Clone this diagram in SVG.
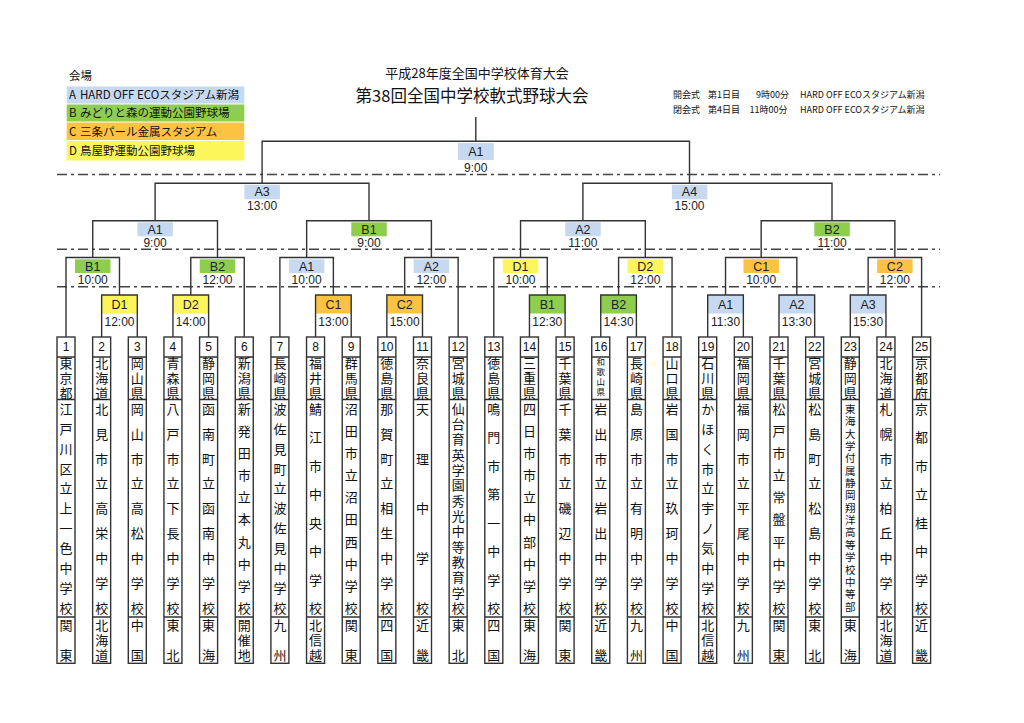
<svg xmlns="http://www.w3.org/2000/svg" width="1024" height="723" viewBox="0 0 1024 723">
<style>
.bg{fill:#ffffff}
.cn{fill:none;stroke:#333;stroke-width:1.4}
.dash{fill:none;stroke:#444;stroke-width:1.5;stroke-dasharray:10 4 3 4}
.tb{fill:#fff;stroke:#333;stroke-width:1.4}
.tl{fill:none;stroke:#333;stroke-width:1.4}
.num{font-family:"Liberation Sans",Arial,sans-serif;font-size:12px;fill:#111;text-anchor:middle}
.jp{font-family:"Noto Sans CJK JP",sans-serif;font-size:13px;fill:#111;text-anchor:middle}
.jps{font-family:"Noto Sans CJK JP",sans-serif;font-size:10.5px;fill:#111;text-anchor:middle}
.jpxs{font-family:"Noto Sans CJK JP",sans-serif;font-size:8.5px;fill:#111;text-anchor:middle}
.lab{font-family:"Liberation Sans",Arial,sans-serif;font-size:12.5px;fill:#222;text-anchor:middle}
.tm{font-family:"Liberation Sans",Arial,sans-serif;font-size:12px;fill:#222;text-anchor:middle}
.lg{font-family:"Noto Sans CJK JP",sans-serif;font-size:11.5px;fill:#111}
.hd{font-family:"Noto Sans CJK JP",sans-serif;font-size:9px;fill:#111}
.A{fill:#c6d9f0}
.B{fill:#8fce4c}
.C{fill:#fcc343}
.D{fill:#fdf65a}
</style>
<rect class="bg" x="0" y="0" width="1024" height="723"/>

<g id="legend">
<text class="lg" x="69" y="80">会場</text>
<rect class="A" x="66.7" y="86.5" width="177.6" height="17"/>
<rect class="B" x="66.7" y="104.5" width="177.6" height="17"/>
<rect class="C" x="66.7" y="122.5" width="177.6" height="17.5"/>
<rect class="D" x="66.7" y="141" width="177.6" height="19.5"/>
<text class="lg" x="69" y="99.3">A</text><text class="lg" x="80" y="99.3">HARD OFF ECOスタジアム新潟</text>
<text class="lg" x="69" y="117.3">B</text><text class="lg" x="80" y="117.3">みどりと森の運動公園野球場</text>
<text class="lg" x="69" y="135.6">C</text><text class="lg" x="80" y="135.6">三条パール金属スタジアム</text>
<text class="lg" x="69" y="154.8">D</text><text class="lg" x="80" y="154.8">鳥屋野運動公園野球場</text>
</g>

<g id="title">
<text x="477" y="78" style="font-family:'Noto Sans CJK JP',sans-serif;font-size:13px;fill:#111;text-anchor:middle">平成28年度全国中学校体育大会</text>
<text x="472" y="101.5" style="font-family:'Noto Sans CJK JP',sans-serif;font-size:16.5px;fill:#111;text-anchor:middle">第38回全国中学校軟式野球大会</text>
</g>

<g id="ceremony">
<text class="hd" x="673" y="97.6">開会式</text>
<text class="hd" x="708" y="97.6">第1日目</text>
<text class="hd" x="756" y="97.6">9時00分</text>
<text class="hd" x="800" y="97.6">HARD OFF ECOスタジアム新潟</text>
<text class="hd" x="673" y="112.6">閉会式</text>
<text class="hd" x="708" y="112.6">第4日目</text>
<text class="hd" x="749.5" y="112.6">11時00分</text>
<text class="hd" x="800" y="112.6">HARD OFF ECOスタジアム新潟</text>
</g>

<g id="round-lines">
<line class="dash" x1="57" y1="174.5" x2="940" y2="174.5"/>
<line class="dash" x1="57" y1="249.3" x2="940" y2="249.3"/>
<line class="dash" x1="57" y1="286.8" x2="940" y2="286.8"/>
</g>

<g id="r1-fills">
<rect class="D" x="101.65" y="295" width="35.65" height="18.5"/>
<rect class="D" x="172.95" y="295" width="35.65" height="18.5"/>
<rect class="C" x="315.55" y="295" width="35.65" height="18.5"/>
<rect class="C" x="386.85" y="295" width="35.65" height="18.5"/>
<rect class="B" x="529.45" y="295" width="35.65" height="18.5"/>
<rect class="B" x="600.75" y="295" width="35.65" height="18.5"/>
<rect class="A" x="707.7" y="295" width="35.65" height="18.5"/>
<rect class="A" x="779" y="295" width="35.65" height="18.5"/>
<rect class="A" x="850.3" y="295" width="35.65" height="18.5"/>
</g>

<g id="connectors">
<path class="cn" d="M101.65 337V295H137.3V337M172.95 337V295H208.6V337M315.55 337V295H351.2V337M386.85 337V295H422.5V337M529.45 337V295H565.1V337M600.75 337V295H636.4V337M707.7 337V295H743.35V337M779 337V295H814.65V337M850.3 337V295H885.95V337"/>
<path class="cn" d="M66 337V257.5H119.48V295M190.78 295V257.5H244.25V337M279.9 337V257.5H333.38V295M404.68 295V257.5H458.15V337M493.8 337V257.5H547.28V295M618.58 295V257.5H672.05V337M725.53 295V257.5H796.83V295M868.13 295V257.5H921.6V337"/>
<path class="cn" d="M92.74 257.5V220.7H217.5V257.5M306.64 257.5V220.7H431.41V257.5M520.54 257.5V220.7H645.31V257.5M761.18 257.5V220.7H894.86V257.5"/>
<path class="cn" d="M155.1 220.7V183.3H369V220.7M582.9 220.7V183.3H832V220.7"/>
<path class="cn" d="M262.1 183.3V141.3H689.5V183.3M475.8 141.3V117"/>
</g>

<g id="final">
<rect class="A" x="457.8" y="143" width="36" height="17"/>
<text class="lab" x="475.8" y="155.7">A1</text>
<text class="tm" x="475.8" y="172.3">9:00</text>
</g>
<g id="sf-a3">
<rect class="A" x="244.4" y="184.8" width="35.5" height="14.5"/>
<text class="lab" x="262.1" y="195.5">A3</text>
<text class="tm" x="262.1" y="210.3">13:00</text>
</g>
<g id="sf-a4">
<rect class="A" x="671.8" y="184.8" width="35.5" height="14.5"/>
<text class="lab" x="689.5" y="195.5">A4</text>
<text class="tm" x="689.5" y="210.3">15:00</text>
</g>

<g id="qf-a1">
<rect class="A" x="137.4" y="222.3" width="35.5" height="14"/>
<text class="lab" x="155.1" y="233.5">A1</text>
<text class="tm" x="155.1" y="246.6">9:00</text>
</g>
<g id="qf-b1">
<rect class="B" x="351.3" y="222.3" width="35.5" height="14"/>
<text class="lab" x="369" y="233.5">B1</text>
<text class="tm" x="369" y="246.6">9:00</text>
</g>
<g id="qf-a2">
<rect class="A" x="565.2" y="222.3" width="35.5" height="14"/>
<text class="lab" x="582.9" y="233.5">A2</text>
<text class="tm" x="582.9" y="246.6">11:00</text>
</g>
<g id="qf-b2">
<rect class="B" x="814.3" y="222.3" width="35.5" height="14"/>
<text class="lab" x="832" y="233.5">B2</text>
<text class="tm" x="832" y="246.6">11:00</text>
</g>

<g id="r2-b1">
<rect class="B" x="75" y="259.3" width="35.5" height="13.7"/>
<text class="lab" x="92.74" y="270.5">B1</text>
<text class="tm" x="92.74" y="283.7">10:00</text>
</g>
<g id="r2-b2">
<rect class="B" x="199.75" y="259.3" width="35.5" height="13.7"/>
<text class="lab" x="217.5" y="270.5">B2</text>
<text class="tm" x="217.5" y="283.7">12:00</text>
</g>
<g id="r2-a1">
<rect class="A" x="288.9" y="259.3" width="35.5" height="13.7"/>
<text class="lab" x="306.64" y="270.5">A1</text>
<text class="tm" x="306.64" y="283.7">10:00</text>
</g>
<g id="r2-a2">
<rect class="A" x="413.66" y="259.3" width="35.5" height="13.7"/>
<text class="lab" x="431.41" y="270.5">A2</text>
<text class="tm" x="431.41" y="283.7">12:00</text>
</g>
<g id="r2-d1">
<rect class="D" x="502.8" y="259.3" width="35.5" height="13.7"/>
<text class="lab" x="520.54" y="270.5">D1</text>
<text class="tm" x="520.54" y="283.7">10:00</text>
</g>
<g id="r2-d2">
<rect class="D" x="627.56" y="259.3" width="35.5" height="13.7"/>
<text class="lab" x="645.31" y="270.5">D2</text>
<text class="tm" x="645.31" y="283.7">12:00</text>
</g>
<g id="r2-c1">
<rect class="C" x="743.43" y="259.3" width="35.5" height="13.7"/>
<text class="lab" x="761.18" y="270.5">C1</text>
<text class="tm" x="761.18" y="283.7">10:00</text>
</g>
<g id="r2-c2">
<rect class="C" x="877.1" y="259.3" width="35.5" height="13.7"/>
<text class="lab" x="894.86" y="270.5">C2</text>
<text class="tm" x="894.86" y="283.7">12:00</text>
</g>

<g id="r1-d1"><text class="lab" x="119.48" y="309">D1</text><text class="tm" x="119.48" y="326.3">12:00</text></g>
<g id="r1-d2"><text class="lab" x="190.78" y="309">D2</text><text class="tm" x="190.78" y="326.3">14:00</text></g>
<g id="r1-c1"><text class="lab" x="333.38" y="309">C1</text><text class="tm" x="333.38" y="326.3">13:00</text></g>
<g id="r1-c2"><text class="lab" x="404.68" y="309">C2</text><text class="tm" x="404.68" y="326.3">15:00</text></g>
<g id="r1-b1"><text class="lab" x="547.28" y="309">B1</text><text class="tm" x="547.28" y="326.3">12:30</text></g>
<g id="r1-b2"><text class="lab" x="618.58" y="309">B2</text><text class="tm" x="618.58" y="326.3">14:30</text></g>
<g id="r1-a1"><text class="lab" x="725.53" y="309">A1</text><text class="tm" x="725.53" y="326.3">11:30</text></g>
<g id="r1-a2"><text class="lab" x="796.83" y="309">A2</text><text class="tm" x="796.83" y="326.3">13:30</text></g>
<g id="r1-a3"><text class="lab" x="868.13" y="309">A3</text><text class="tm" x="868.13" y="326.3">15:30</text></g>

<g id="team1" transform="translate(66,0)">
<rect class="tb" x="-9" y="337" width="18" height="326.3"/><path class="tl" d="M-9 357H9M-9 399.5H9M-9 617H9"/>
<text class="num" x="0" y="351.3">1</text>
<text class="jp" x="0 0 0" y="368.2 382.9 397.5">東京都</text>
<text class="jp" x="0 0 0 0 0 0 0 0 0 0 0" y="413.7 433.6 453.6 473.5 493.4 513.35 533.3 553.2 573.1 593.1 613">江戸川区立上一色中学校</text>
<text class="jp" x="0 0" y="629.7 659.7">関東</text>
</g>
<g id="team2" transform="translate(101.65,0)">
<rect class="tb" x="-9" y="337" width="18" height="326.3"/><path class="tl" d="M-9 357H9M-9 399.5H9M-9 617H9"/>
<text class="num" x="0" y="351.3">2</text>
<text class="jp" x="0 0 0" y="368.2 382.9 397.5">北海道</text>
<text class="jp" x="0 0 0 0 0 0 0 0 0" y="413.7 438.6 463.5 488.4 513.35 538.3 563.2 588.1 613">北見市立高栄中学校</text>
<text class="jp" x="0 0 0" y="629.7 644.7 659.7">北海道</text>
</g>
<g id="team3" transform="translate(137.3,0)">
<rect class="tb" x="-9" y="337" width="18" height="326.3"/><path class="tl" d="M-9 357H9M-9 399.5H9M-9 617H9"/>
<text class="num" x="0" y="351.3">3</text>
<text class="jp" x="0 0 0" y="368.2 382.9 397.5">岡山県</text>
<text class="jp" x="0 0 0 0 0 0 0 0 0" y="413.7 438.6 463.5 488.4 513.35 538.3 563.2 588.1 613">岡山市立高松中学校</text>
<text class="jp" x="0 0" y="629.7 659.7">中国</text>
</g>
<g id="team4" transform="translate(172.95,0)">
<rect class="tb" x="-9" y="337" width="18" height="326.3"/><path class="tl" d="M-9 357H9M-9 399.5H9M-9 617H9"/>
<text class="num" x="0" y="351.3">4</text>
<text class="jp" x="0 0 0" y="368.2 382.9 397.5">青森県</text>
<text class="jp" x="0 0 0 0 0 0 0 0 0" y="413.7 438.6 463.5 488.4 513.35 538.3 563.2 588.1 613">八戸市立下長中学校</text>
<text class="jp" x="0 0" y="629.7 659.7">東北</text>
</g>
<g id="team5" transform="translate(208.6,0)">
<rect class="tb" x="-9" y="337" width="18" height="326.3"/><path class="tl" d="M-9 357H9M-9 399.5H9M-9 617H9"/>
<text class="num" x="0" y="351.3">5</text>
<text class="jp" x="0 0 0" y="368.2 382.9 397.5">静岡県</text>
<text class="jp" x="0 0 0 0 0 0 0 0 0" y="413.7 438.6 463.5 488.4 513.35 538.3 563.2 588.1 613">函南町立函南中学校</text>
<text class="jp" x="0 0" y="629.7 659.7">東海</text>
</g>
<g id="team6" transform="translate(244.25,0)">
<rect class="tb" x="-9" y="337" width="18" height="326.3"/><path class="tl" d="M-9 357H9M-9 399.5H9M-9 617H9"/>
<text class="num" x="0" y="351.3">6</text>
<text class="jp" x="0 0 0" y="368.2 382.9 397.5">新潟県</text>
<text class="jp" x="0 0 0 0 0 0 0 0 0 0" y="413.7 435.8 458 480.1 502.3 524.4 546.5 568.7 590.8 613">新発田市立本丸中学校</text>
<text class="jp" x="0 0 0" y="629.7 644.7 659.7">開催地</text>
</g>
<g id="team7" transform="translate(279.9,0)">
<rect class="tb" x="-9" y="337" width="18" height="326.3"/><path class="tl" d="M-9 357H9M-9 399.5H9M-9 617H9"/>
<text class="num" x="0" y="351.3">7</text>
<text class="jp" x="0 0 0" y="368.2 382.9 397.5">長崎県</text>
<text class="jp" x="0 0 0 0 0 0 0 0 0 0 0" y="413.7 433.6 453.6 473.5 493.4 513.35 533.3 553.2 573.1 593.1 613">波佐見町立波佐見中学校</text>
<text class="jp" x="0 0" y="629.7 659.7">九州</text>
</g>
<g id="team8" transform="translate(315.55,0)">
<rect class="tb" x="-9" y="337" width="18" height="326.3"/><path class="tl" d="M-9 357H9M-9 399.5H9M-9 617H9"/>
<text class="num" x="0" y="351.3">8</text>
<text class="jp" x="0 0 0" y="368.2 382.9 397.5">福井県</text>
<text class="jp" x="0 0 0 0 0 0 0 0" y="413.7 442.2 470.6 499.1 527.6 556.1 584.5 613">鯖江市中央中学校</text>
<text class="jp" x="0 0 0" y="629.7 644.7 659.7">北信越</text>
</g>
<g id="team9" transform="translate(351.2,0)">
<rect class="tb" x="-9" y="337" width="18" height="326.3"/><path class="tl" d="M-9 357H9M-9 399.5H9M-9 617H9"/>
<text class="num" x="0" y="351.3">9</text>
<text class="jp" x="0 0 0" y="368.2 382.9 397.5">群馬県</text>
<text class="jp" x="0 0 0 0 0 0 0 0 0 0" y="413.7 435.8 458 480.1 502.3 524.4 546.5 568.7 590.8 613">沼田市立沼田西中学校</text>
<text class="jp" x="0 0" y="629.7 659.7">関東</text>
</g>
<g id="team10" transform="translate(386.85,0)">
<rect class="tb" x="-9" y="337" width="18" height="326.3"/><path class="tl" d="M-9 357H9M-9 399.5H9M-9 617H9"/>
<text class="num" x="0" y="351.3">10</text>
<text class="jp" x="0 0 0" y="368.2 382.9 397.5">徳島県</text>
<text class="jp" x="0 0 0 0 0 0 0 0 0" y="413.7 438.6 463.5 488.4 513.35 538.3 563.2 588.1 613">那賀町立相生中学校</text>
<text class="jp" x="0 0" y="629.7 659.7">四国</text>
</g>
<g id="team11" transform="translate(422.5,0)">
<rect class="tb" x="-9" y="337" width="18" height="326.3"/><path class="tl" d="M-9 357H9M-9 399.5H9M-9 617H9"/>
<text class="num" x="0" y="351.3">11</text>
<text class="jp" x="0 0 0" y="368.2 382.9 397.5">奈良県</text>
<text class="jp" x="0 0 0 0 0" y="413.7 463.5 513.35 563.2 613">天理中学校</text>
<text class="jp" x="0 0" y="629.7 659.7">近畿</text>
</g>
<g id="team12" transform="translate(458.15,0)">
<rect class="tb" x="-9" y="337" width="18" height="326.3"/><path class="tl" d="M-9 357H9M-9 399.5H9M-9 617H9"/>
<text class="num" x="0" y="351.3">12</text>
<text class="jp" x="0 0 0" y="368.2 382.9 397.5">宮城県</text>
<text class="jp" x="0 0 0 0 0 0 0 0 0 0 0 0 0 0" y="413.7 429 444.4 459.7 475 490.3 505.7 521 536.3 551.7 567 582.3 597.7 613">仙台育英学園秀光中等教育学校</text>
<text class="jp" x="0 0" y="629.7 659.7">東北</text>
</g>
<g id="team13" transform="translate(493.8,0)">
<rect class="tb" x="-9" y="337" width="18" height="326.3"/><path class="tl" d="M-9 357H9M-9 399.5H9M-9 617H9"/>
<text class="num" x="0" y="351.3">13</text>
<text class="jp" x="0 0 0" y="368.2 382.9 397.5">徳島県</text>
<text class="jp" x="0 0 0 0 0 0 0 0" y="413.7 442.2 470.6 499.1 527.6 556.1 584.5 613">鳴門市第一中学校</text>
<text class="jp" x="0 0" y="629.7 659.7">四国</text>
</g>
<g id="team14" transform="translate(529.45,0)">
<rect class="tb" x="-9" y="337" width="18" height="326.3"/><path class="tl" d="M-9 357H9M-9 399.5H9M-9 617H9"/>
<text class="num" x="0" y="351.3">14</text>
<text class="jp" x="0 0 0" y="368.2 382.9 397.5">三重県</text>
<text class="jp" x="0 0 0 0 0 0 0 0 0 0" y="413.7 435.8 458 480.1 502.3 524.4 546.5 568.7 590.8 613">四日市市立中部中学校</text>
<text class="jp" x="0 0" y="629.7 659.7">東海</text>
</g>
<g id="team15" transform="translate(565.1,0)">
<rect class="tb" x="-9" y="337" width="18" height="326.3"/><path class="tl" d="M-9 357H9M-9 399.5H9M-9 617H9"/>
<text class="num" x="0" y="351.3">15</text>
<text class="jp" x="0 0 0" y="368.2 382.9 397.5">千葉県</text>
<text class="jp" x="0 0 0 0 0 0 0 0 0" y="413.7 438.6 463.5 488.4 513.35 538.3 563.2 588.1 613">千葉市立磯辺中学校</text>
<text class="jp" x="0 0" y="629.7 659.7">関東</text>
</g>
<g id="team16" transform="translate(600.75,0)">
<rect class="tb" x="-9" y="337" width="18" height="326.3"/><path class="tl" d="M-9 357H9M-9 399.5H9M-9 617H9"/>
<text class="num" x="0" y="351.3">16</text>
<text class="jpxs" x="0 0 0 0" y="364.7 374.7 384.7 395.2">和歌山県</text>
<text class="jp" x="0 0 0 0 0 0 0 0 0" y="413.7 438.6 463.5 488.4 513.35 538.3 563.2 588.1 613">岩出市立岩出中学校</text>
<text class="jp" x="0 0" y="629.7 659.7">近畿</text>
</g>
<g id="team17" transform="translate(636.4,0)">
<rect class="tb" x="-9" y="337" width="18" height="326.3"/><path class="tl" d="M-9 357H9M-9 399.5H9M-9 617H9"/>
<text class="num" x="0" y="351.3">17</text>
<text class="jp" x="0 0 0" y="368.2 382.9 397.5">長崎県</text>
<text class="jp" x="0 0 0 0 0 0 0 0 0" y="413.7 438.6 463.5 488.4 513.35 538.3 563.2 588.1 613">島原市立有明中学校</text>
<text class="jp" x="0 0" y="629.7 659.7">九州</text>
</g>
<g id="team18" transform="translate(672.05,0)">
<rect class="tb" x="-9" y="337" width="18" height="326.3"/><path class="tl" d="M-9 357H9M-9 399.5H9M-9 617H9"/>
<text class="num" x="0" y="351.3">18</text>
<text class="jp" x="0 0 0" y="368.2 382.9 397.5">山口県</text>
<text class="jp" x="0 0 0 0 0 0 0 0 0" y="413.7 438.6 463.5 488.4 513.35 538.3 563.2 588.1 613">岩国市立玖珂中学校</text>
<text class="jp" x="0 0" y="629.7 659.7">中国</text>
</g>
<g id="team19" transform="translate(707.7,0)">
<rect class="tb" x="-9" y="337" width="18" height="326.3"/><path class="tl" d="M-9 357H9M-9 399.5H9M-9 617H9"/>
<text class="num" x="0" y="351.3">19</text>
<text class="jp" x="0 0 0" y="368.2 382.9 397.5">石川県</text>
<text class="jp" x="0 0 0 0 0 0 0 0 0 0 0" y="413.7 433.6 453.6 473.5 493.4 513.35 533.3 553.2 573.1 593.1 613">かほく市立宇ノ気中学校</text>
<text class="jp" x="0 0 0" y="629.7 644.7 659.7">北信越</text>
</g>
<g id="team20" transform="translate(743.35,0)">
<rect class="tb" x="-9" y="337" width="18" height="326.3"/><path class="tl" d="M-9 357H9M-9 399.5H9M-9 617H9"/>
<text class="num" x="0" y="351.3">20</text>
<text class="jp" x="0 0 0" y="368.2 382.9 397.5">福岡県</text>
<text class="jp" x="0 0 0 0 0 0 0 0 0" y="413.7 438.6 463.5 488.4 513.35 538.3 563.2 588.1 613">福岡市立平尾中学校</text>
<text class="jp" x="0 0" y="629.7 659.7">九州</text>
</g>
<g id="team21" transform="translate(779,0)">
<rect class="tb" x="-9" y="337" width="18" height="326.3"/><path class="tl" d="M-9 357H9M-9 399.5H9M-9 617H9"/>
<text class="num" x="0" y="351.3">21</text>
<text class="jp" x="0 0 0" y="368.2 382.9 397.5">千葉県</text>
<text class="jp" x="0 0 0 0 0 0 0 0 0 0" y="413.7 435.8 458 480.1 502.3 524.4 546.5 568.7 590.8 613">松戸市立常盤平中学校</text>
<text class="jp" x="0 0" y="629.7 659.7">関東</text>
</g>
<g id="team22" transform="translate(814.65,0)">
<rect class="tb" x="-9" y="337" width="18" height="326.3"/><path class="tl" d="M-9 357H9M-9 399.5H9M-9 617H9"/>
<text class="num" x="0" y="351.3">22</text>
<text class="jp" x="0 0 0" y="368.2 382.9 397.5">宮城県</text>
<text class="jp" x="0 0 0 0 0 0 0 0 0" y="413.7 438.6 463.5 488.4 513.35 538.3 563.2 588.1 613">松島町立松島中学校</text>
<text class="jp" x="0 0" y="629.7 659.7">東北</text>
</g>
<g id="team23" transform="translate(850.3,0)">
<rect class="tb" x="-9" y="337" width="18" height="326.3"/><path class="tl" d="M-9 357H9M-9 399.5H9M-9 617H9"/>
<text class="num" x="0" y="351.3">23</text>
<text class="jp" x="0 0 0" y="368.2 382.9 397.5">静岡県</text>
<text class="jps" x="0 0 0 0 0 0 0 0 0 0 0 0 0 0 0 0 0" y="412.8 425.2 437.5 449.9 462.2 474.6 487 499.3 511.7 524 536.4 548.8 561.1 573.5 585.8 598.2 610.5">東海大学付属静岡翔洋高等学校中等部</text>
<text class="jp" x="0 0" y="629.7 659.7">東海</text>
</g>
<g id="team24" transform="translate(885.95,0)">
<rect class="tb" x="-9" y="337" width="18" height="326.3"/><path class="tl" d="M-9 357H9M-9 399.5H9M-9 617H9"/>
<text class="num" x="0" y="351.3">24</text>
<text class="jp" x="0 0 0" y="368.2 382.9 397.5">北海道</text>
<text class="jp" x="0 0 0 0 0 0 0 0 0" y="413.7 438.6 463.5 488.4 513.35 538.3 563.2 588.1 613">札幌市立柏丘中学校</text>
<text class="jp" x="0 0 0" y="629.7 644.7 659.7">北海道</text>
</g>
<g id="team25" transform="translate(921.6,0)">
<rect class="tb" x="-9" y="337" width="18" height="326.3"/><path class="tl" d="M-9 357H9M-9 399.5H9M-9 617H9"/>
<text class="num" x="0" y="351.3">25</text>
<text class="jp" x="0 0 0" y="368.2 382.9 397.5">京都府</text>
<text class="jp" x="0 0 0 0 0 0 0 0" y="413.7 442.2 470.6 499.1 527.6 556.1 584.5 613">京都市立桂中学校</text>
<text class="jp" x="0 0" y="629.7 659.7">近畿</text>
</g>
</svg>
